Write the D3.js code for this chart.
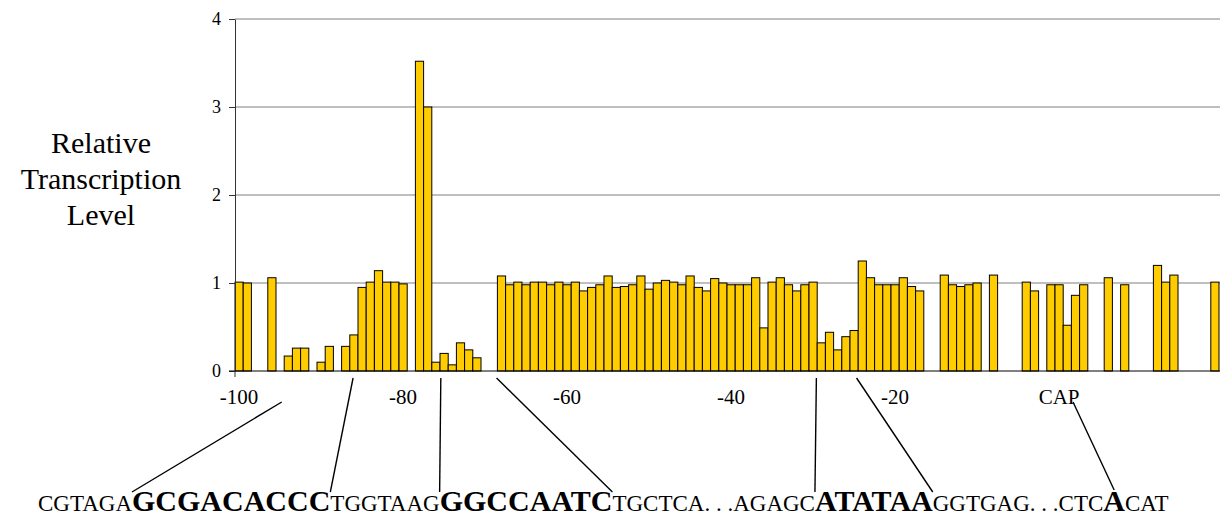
<!DOCTYPE html>
<html>
<head>
<meta charset="utf-8">
<script src="https://cdn.jsdelivr.net/npm/d3@7.9.0/dist/d3.min.js"></script>
<style>
  html, body { margin: 0; padding: 0; background: #fff; }
  svg { display: block; font-family: "Liberation Serif", "Times New Roman", serif; }
</style>
</head>
<body>
<svg id="chart" width="1220" height="519"></svg>
<script>
// positions -100 ... +19 upstream/downstream of the cap site (0 = CAP)
const positions = d3.range(-100, 20);

// relative transcription level per position (null = no mutant measured)
const levels = [
  1.01, 1.00, null, null, 1.06, null, 0.17, 0.26, 0.26, null,
  0.10, 0.28, null, 0.28, 0.41, 0.95, 1.01, 1.14, 1.01, 1.01,
  0.99, null, 3.52, 3.00, 0.10, 0.20, 0.07, 0.32, 0.24, 0.15,
  null, null, 1.08, 0.98, 1.01, 0.98, 1.01, 1.01, 0.98, 1.01,
  0.98, 1.01, 0.91, 0.95, 0.98, 1.08, 0.95, 0.96, 0.98, 1.08,
  0.93, 1.00, 1.03, 1.01, 0.98, 1.08, 0.95, 0.91, 1.05, 1.00,
  0.98, 0.98, 0.98, 1.06, 0.49, 1.01, 1.06, 0.98, 0.91, 0.98,
  1.01, 0.32, 0.44, 0.24, 0.39, 0.46, 1.25, 1.06, 0.98, 0.98,
  0.98, 1.06, 0.96, 0.91, null, null, 1.09, 0.98, 0.96, 0.98,
  1.00, null, 1.09, null, null, null, 1.01, 0.91, null, 0.98,
  0.98, 0.52, 0.86, 0.98, null, null, 1.06, null, 0.98, null,
  null, null, 1.20, 1.01, 1.09, null, null, null, null, 1.01
];

const yTicks = [0, 1, 2, 3, 4];
const xTickPositions = [-100, -80, -60, -40, -20, 0];
const xTickLabels = ['-100', '-80', '-60', '-40', '-20', 'CAP'];
const yTitle = ['Relative', 'Transcription', 'Level'];

// promoter sequence shown under the axis: [text, is element]
const seqParts = [
  ['CGTAGA', false], ['GCGACACCC', true], ['TGGTAAG', false],
  ['GGCCAATC', true], ['TGCTCA. . .AGAGC', false], ['ATATAA', true],
  ['GGTGAG. . .CTC', false], ['A', true], ['CAT', false]
];

// connector lines: where they leave the axis, which sequence part they hit
const links = [
  { pos: -94.3, low: true,  part: 1, edge: 'start' },
  { pos: -85.6, low: false, part: 1, edge: 'end' },
  { pos: -74.9, low: false, part: 3, edge: 'start' },
  { pos: -68.1, low: false, part: 3, edge: 'end' },
  { pos: -29.1, low: false, part: 5, edge: 'start' },
  { pos: -24.2, low: false, part: 5, edge: 'end' },
  { pos: 2.2,   low: true,  part: 7, edge: 'mid' }
];

const data = positions.map((p, i) => ({ pos: p, value: levels[i] }))
  .filter(d => d.value != null);

const svg = d3.select('#chart');
const plotLeft = 235, plotRight = 1219, plotTop = 19, plotBottom = 371;

const x = d3.scaleBand().domain(positions).range([plotLeft, plotRight]).padding(0);
const xPos = d3.scaleLinear().domain([-100, 20]).range([plotLeft, plotRight]);
const y = d3.scaleLinear().domain([0, 4]).range([plotBottom, plotTop]);

// gridlines
svg.append('g')
  .selectAll('line')
  .data(yTicks.filter(d => d > 0))
  .join('line')
    .attr('x1', plotLeft).attr('x2', 1220)
    .attr('y1', d => y(d)).attr('y2', d => y(d))
    .attr('stroke', '#808080')
    .attr('stroke-width', 1.2);

// bars
svg.append('g')
  .selectAll('rect')
  .data(data)
  .join('rect')
    .attr('x', d => x(d.pos))
    .attr('y', d => y(d.value))
    .attr('width', x.bandwidth())
    .attr('height', d => y(0) - y(d.value))
    .attr('fill', '#FFCC00')
    .attr('stroke', '#000')
    .attr('stroke-width', 1);

// y axis
const yAxis = svg.append('g')
  .attr('transform', `translate(${plotLeft},0)`)
  .call(d3.axisLeft(y).tickValues(yTicks).tickFormat(d3.format('d'))
    .tickSize(6).tickSizeOuter(0).tickPadding(8));
yAxis.select('.domain').attr('stroke', '#333');
yAxis.selectAll('.tick line').attr('stroke', '#333');
yAxis.selectAll('text')
  .attr('font-family', '"Liberation Serif", serif')
  .attr('font-size', 18)
  .attr('fill', '#000');

// x axis baseline + labels
svg.append('line')
  .attr('x1', plotLeft - 6).attr('x2', 1220)
  .attr('y1', y(0)).attr('y2', y(0))
  .attr('stroke', '#000').attr('stroke-width', 1);
svg.append('line')
  .attr('x1', plotLeft).attr('x2', plotLeft)
  .attr('y1', y(0)).attr('y2', y(0) + 6)
  .attr('stroke', '#333');

svg.append('g')
  .selectAll('text')
  .data(xTickPositions)
  .join('text')
    .attr('x', d => x(d) + x.bandwidth() / 2)
    .attr('y', 404)
    .attr('text-anchor', 'middle')
    .attr('font-size', 21)
    .text((d, i) => xTickLabels[i]);

// y title
svg.append('text')
  .attr('text-anchor', 'middle')
  .attr('font-size', 30)
  .selectAll('tspan')
  .data(yTitle)
  .join('tspan')
    .attr('x', 101)
    .attr('y', (d, i) => 153 + i * 36)
    .text(d => d);

// sequence
const seq = svg.append('text')
  .attr('x', 38)
  .attr('y', 511);
seq.selectAll('tspan')
  .data(seqParts)
  .join('tspan')
    .attr('font-size', d => d[1] ? 30 : 23)
    .attr('font-weight', d => d[1] ? 'bold' : 'normal')
    .text(d => d[0]);

const node = seq.node();
const starts = [];
let idx = 0;
seqParts.forEach(p => { starts.push(idx); idx += p[0].length; });
function edgeX(part, edge) {
  const s = starts[part], e = s + seqParts[part][0].length - 1;
  const x0 = node.getStartPositionOfChar(s).x;
  const x1 = node.getEndPositionOfChar(e).x;
  if (edge === 'start') return x0;
  if (edge === 'end') return x1;
  return (x0 + x1) / 2;
}

svg.append('g')
  .selectAll('line')
  .data(links)
  .join('line')
    .attr('x1', d => xPos(d.pos))
    .attr('y1', d => d.low ? 402 : 378)
    .attr('x2', d => edgeX(d.part, d.edge))
    .attr('y2', d => d.edge === 'mid' ? 490 : 492)
    .attr('stroke', '#000')
    .attr('stroke-width', 1.4);
</script>
</body>
</html>
